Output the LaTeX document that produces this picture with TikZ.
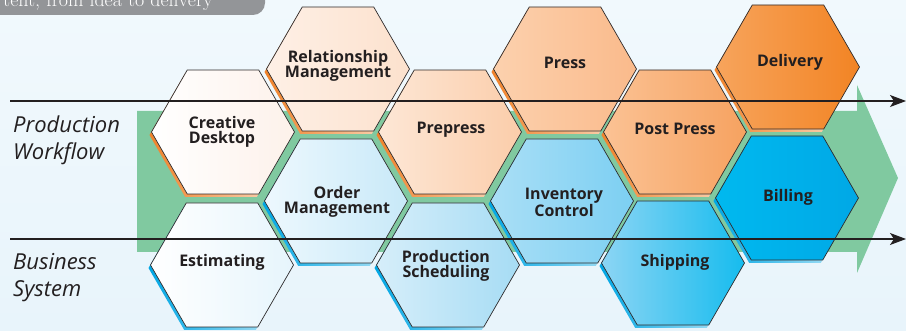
\documentclass[tikz,border=0pt]{standalone}
\usepackage{fontspec}
\setsansfont{Open Sans}
\usetikzlibrary{arrows.meta}
\definecolor{txt}{HTML}{231F20}
\definecolor{hexedge}{HTML}{2E2B2C}
\definecolor{grn}{HTML}{80C9A0}
\definecolor{oshd}{HTML}{F0822A}
\definecolor{bshd}{HTML}{00A6E4}
\definecolor{bgtop}{HTML}{F1F9FD}
\definecolor{bgbot}{HTML}{E8F4FB}
\definecolor{ttlbox}{HTML}{939598}
% orange gradient stops
\definecolor{oA}{HTML}{FFFFFF}\definecolor{oB}{HTML}{FDF1EA}
\definecolor{oC}{HTML}{FEF0E6}\definecolor{oD}{HTML}{FCE1CD}
\definecolor{oE}{HTML}{FDE7D6}\definecolor{oF}{HTML}{FBCDAA}
\definecolor{oG}{HTML}{FCD1AE}\definecolor{oH}{HTML}{FABA8B}
\definecolor{oI}{HTML}{FBC294}\definecolor{oJ}{HTML}{F6A260}
\definecolor{oK}{HTML}{F7A45C}\definecolor{oL}{HTML}{F28424}
% blue gradient stops
\definecolor{bA}{HTML}{FFFFFF}\definecolor{bB}{HTML}{E6F5FC}
\definecolor{bC}{HTML}{EDF8FE}\definecolor{bD}{HTML}{C8E9F8}
\definecolor{bE}{HTML}{D6EEFA}\definecolor{bF}{HTML}{A6DCF4}
\definecolor{bG}{HTML}{AADFF6}\definecolor{bH}{HTML}{7CCFF2}
\definecolor{bI}{HTML}{8CD5F4}\definecolor{bJ}{HTML}{16BCEE}
\definecolor{bK}{HTML}{00B9EF}\definecolor{bL}{HTML}{00A8E6}
\tikzset{
  hexline/.style={draw=hexedge, line width=0.7pt},
  hexlabel/.style={font=\sffamily\bfseries\fontsize{16}{15.5}\selectfont, text=txt, align=center, inner sep=0pt},
  sidelabel/.style={font=\sffamily\itshape\fontsize{22}{27}\selectfont, text=txt, inner sep=0pt, anchor=base west},
  axisline/.style={line width=1.1pt, draw=txt, -{Stealth[length=16pt,width=12pt,inset=4pt]}},
  titletext/.style={font=\rmfamily\fontsize{20}{22}\selectfont, text=white, inner sep=0pt, anchor=base east}
}
\newcommand{\hexcell}[5]{%
  \begin{scope}[shift={(#1,#2)}]
    \shade[left color=#5, right color=#5!25!white]
      (69.5,3) -- (33.75,65) -- (-37.75,65) -- (-73.5,3) -- (-37.75,-59) -- (33.75,-59) -- cycle;
    \shade[left color=#3, right color=#4, hexline]
      (71.5,0) -- (35.75,62) -- (-35.75,62) -- (-71.5,0) -- (-35.75,-62) -- (35.75,-62) -- cycle;
  \end{scope}}
\begin{document}
\begin{tikzpicture}[x=1pt,y=-1pt]
\useasboundingbox (0,0) rectangle (906,331);
\clip (0,0) rectangle (906,331);
% background
\shade[top color=bgtop, bottom color=bgbot] (0,0) rectangle (906,331);
% title tab
\fill[ttlbox, rounded corners=12pt] (-30,-30) rectangle (265,15);
\node[titletext] (title) at (213,7) {tent, from idea to delivery};
% green arrow
\fill[grn] (137,111) -- (857,111) -- (857,85) -- (898,178) -- (857,273) -- (857,252) -- (137,252) -- cycle;
% hexagons: upper (orange)
\hexcell{338}{69}{oC}{oD}{oshd}
\hexcell{565}{69}{oG}{oH}{oshd}
\hexcell{788}{67}{oK}{oL}{oshd}
\hexcell{223}{132}{oA}{oB}{oshd}
\hexcell{450}{132}{oE}{oF}{oshd}
\hexcell{675}{132}{oI}{oJ}{oshd}
% hexagons: lower (blue)
\hexcell{336}{201}{bC}{bD}{bshd}
\hexcell{562}{201}{bG}{bH}{bshd}
\hexcell{787}{198}{bK}{bL}{bshd}
\hexcell{222}{265}{bA}{bB}{bshd}
\hexcell{448}{265}{bE}{bF}{bshd}
\hexcell{673}{263}{bI}{bJ}{bshd}
% labels
\node[hexlabel] (relmgmt) at (338,66) {Relationship\\Management};
\node[hexlabel] (press) at (565,63) {Press};
\node[hexlabel] (delivery) at (790,62) {Delivery};
\node[hexlabel] (creative) at (222,132) {Creative\\Desktop};
\node[hexlabel] (prepress) at (451,130) {Prepress};
\node[hexlabel] (postpress) at (675,129) {Post Press};
\node[hexlabel] (ordermgmt) at (337,202) {Order\\Management};
\node[hexlabel] (inventory) at (564,202) {Inventory\\Control};
\node[hexlabel] (billing) at (788,197) {Billing};
\node[hexlabel] (estimating) at (222,262) {Estimating};
\node[hexlabel] (prodsched) at (446,266) {Production\\Scheduling};
\node[hexlabel] (shipping) at (675,262) {Shipping};
% axis lines
\coordinate (pwstart) at (10,101);
\coordinate (pwend) at (906,101);
\coordinate (bsstart) at (10,239);
\coordinate (bsend) at (906,239);
\draw[axisline] (pwstart) -- (pwend);
\draw[axisline] (bsstart) -- (bsend);
% side labels
\node[sidelabel] (prodA) at (13,133) {Production};
\node[sidelabel] (prodB) at (13,160) {Workflow};
\node[sidelabel] (busA) at (13,270) {Business};
\node[sidelabel] (busB) at (13,297) {System};
\end{tikzpicture}
\end{document}
